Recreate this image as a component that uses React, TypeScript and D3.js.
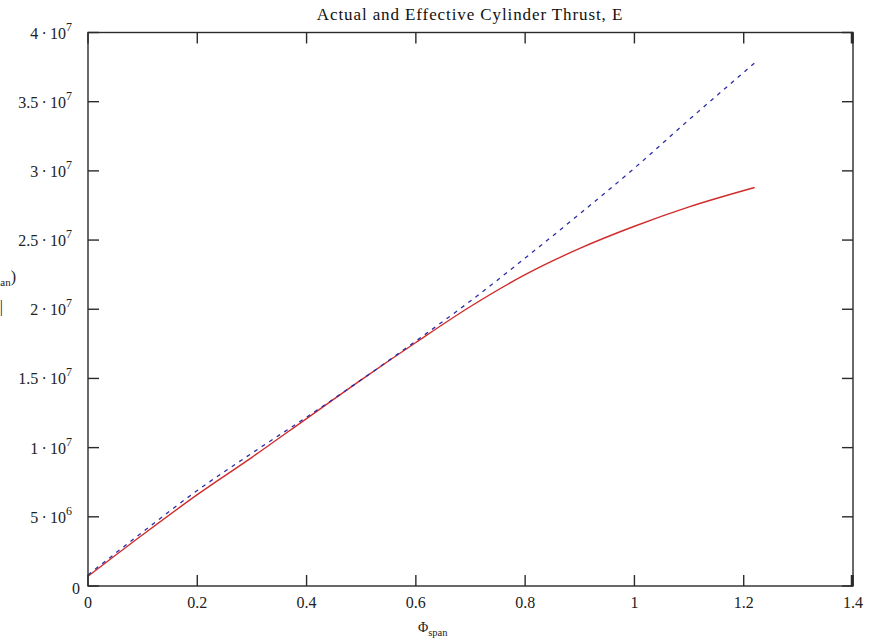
import React from "react";
import * as d3 from "d3";

// phi_span sample points and the two thrust curves
const phiSpan = [0, 0.1, 0.2, 0.3, 0.4, 0.5, 0.6, 0.7, 0.8, 0.9, 1.0, 1.1, 1.22];
const actualThrust = [0.7e6, 3.7e6, 6.6e6, 9.3e6, 12.1e6, 14.9e6, 17.6e6, 20.2e6, 22.5e6, 24.4e6, 26.0e6, 27.4e6, 28.8e6];
const effectiveThrust = [0.8e6, 3.9e6, 6.9e6, 9.6e6, 12.2e6, 14.9e6, 17.7e6, 20.6e6, 23.7e6, 26.9e6, 30.2e6, 33.7e6, 37.8e6];

const xTicks = [0, 0.2, 0.4, 0.6, 0.8, 1, 1.2, 1.4];
const yTicks = [0, 5e6, 1e7, 1.5e7, 2e7, 2.5e7, 3e7, 3.5e7, 4e7];

const title = "Actual and Effective Cylinder Thrust, E";

const W = 881;
const H = 643;
const left = 88;
const right = 853;
const top = 32.5;
const bottom = 586;
const TICK = 11;
const FONT = "'Liberation Serif', 'Times New Roman', serif";

// 3.5e7 -> ["3.5", "7"]
function sciParts(v: number) {
  if (v === 0) return null;
  const e = Math.floor(Math.log10(v) + 1e-9);
  const m = +(v / Math.pow(10, e)).toFixed(2);
  return [String(m), String(e)];
}

const App = () => {
  const x = d3.scaleLinear().domain([0, 1.4]).range([left, right]);
  const y = d3.scaleLinear().domain([0, 4e7]).range([bottom, top]);

  const line = d3
    .line<number>()
    .x((_, i) => x(phiSpan[i]))
    .y((d) => y(d))
    .curve(d3.curveMonotoneX);

  const axisColor = "#2a2a2a";

  return (
    <svg
      width={W}
      height={H}
      style={{ position: "absolute", left: 0, top: 0, background: "#fff" }}
      fontFamily={FONT}
    >
      <rect x={0} y={0} width={W} height={H} fill="#fff" />

      {/* title */}
      <text x={470} y={20} textAnchor="middle" fontSize={17} letterSpacing={0.9} fill="#111">
        {title}
      </text>

      {/* curves */}
      <path d={line(actualThrust) || ""} fill="none" stroke="#d02c2c" strokeWidth={1.4} />
      <path
        d={line(effectiveThrust) || ""}
        fill="none"
        stroke="#2c2ca8"
        strokeWidth={1.3}
        strokeDasharray="4,5"
      />

      {/* frame */}
      <rect x={left} y={top} width={right - left} height={bottom - top} fill="none" stroke={axisColor} strokeWidth={1.4} />
      <line x1={right - 1} y1={top} x2={right - 1} y2={top + TICK} stroke={axisColor} strokeWidth={2.5} />
      <line x1={right - 1} y1={bottom} x2={right - 1} y2={bottom - TICK} stroke={axisColor} strokeWidth={2.5} />

      {/* x ticks, bottom and top, pointing inwards */}
      {xTicks.map((t) => (
        <g key={"x" + t}>
          <line x1={x(t)} x2={x(t)} y1={bottom} y2={bottom - TICK} stroke={axisColor} strokeWidth={1.4} />
          <line x1={x(t)} x2={x(t)} y1={top} y2={top + TICK} stroke={axisColor} strokeWidth={1.4} />
          <text x={x(t)} y={bottom + 22} textAnchor="middle" fontSize={16} fill="#222">
            {String(t)}
          </text>
        </g>
      ))}

      {/* y ticks, left and right */}
      {yTicks.map((t) => {
        const p = sciParts(t);
        return (
          <g key={"y" + t}>
            <line x1={left} x2={left + TICK} y1={y(t)} y2={y(t)} stroke={axisColor} strokeWidth={1.4} />
            <line x1={right} x2={right - TICK} y1={y(t)} y2={y(t)} stroke={axisColor} strokeWidth={1.4} />
            {p ? (
              <text x={72} y={y(t) + 6} textAnchor="end" fontSize={16} fill="#222">
                {p[0] + "\u2009\u00b7\u200910"}
                <tspan dy={-8} fontSize={12}>
                  {p[1]}
                </tspan>
              </text>
            ) : (
              <text x={80} y={y(t) + 8} textAnchor="end" fontSize={16} fill="#222">
                0
              </text>
            )}
          </g>
        );
      })}

      {/* x axis label */}
      <text x={418} y={632} fontSize={14} fill="#222">
        {"\u03a6"}
        <tspan dy={4} fontSize={10.5}>
          span
        </tspan>
      </text>

      {/* y axis label, cut off at the left edge as in the source image */}
      <text x={16} y={282} textAnchor="end" fontSize={16} fill="#222">
        {"E(\u03a6"}
        <tspan dy={4} fontSize={11}>
          span
        </tspan>
        <tspan dy={-4}>)</tspan>
      </text>
      <text x={3} y={312} textAnchor="end" fontSize={16} fill="#222">
        {"E |"}
      </text>
    </svg>
  );
};

export default App;
